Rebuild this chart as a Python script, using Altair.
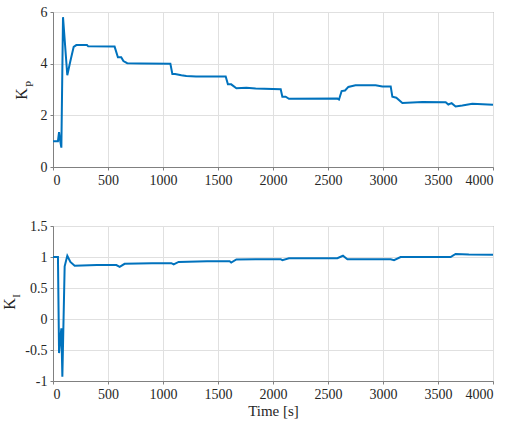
import altair as alt
import pandas as pd

t_kp = [0, 45, 55, 62, 76, 91, 130, 158, 188, 212, 309, 320, 560, 590, 620, 640, 675, 800,
        1067, 1085, 1110, 1167, 1212, 1300, 1570, 1590, 1620, 1667, 1758, 1842, 2070, 2085,
        2115, 2145, 2585, 2600, 2624, 2655, 2685, 2750, 2933, 2994, 3070, 3085, 3121, 3176,
        3358, 3570, 3594, 3624, 3660, 3721, 3812, 4000]
kp = [1.0, 1.0, 1.35, 1.1, 0.75, 5.8, 3.55, 4.1, 4.65, 4.72, 4.72, 4.67, 4.66, 4.25, 4.25,
      4.1, 4.02, 4.01, 4.0, 3.6, 3.6, 3.55, 3.52, 3.5, 3.5, 3.2, 3.2, 3.05, 3.07, 3.04, 3.01,
      2.72, 2.72, 2.64, 2.65, 2.61, 2.94, 2.96, 3.1, 3.16, 3.16, 3.12, 3.12, 2.72, 2.68, 2.48,
      2.52, 2.51, 2.42, 2.47, 2.34, 2.38, 2.45, 2.41]

t_ki = [0, 45, 55, 67, 76, 85, 106, 130, 158, 197, 400, 576, 606, 651, 900, 1076, 1097, 1142,
        1400, 1606, 1620, 1667, 1842, 2070, 2085, 2145, 2585, 2636, 2676, 3070, 3100, 3160,
        3615, 3660, 3780, 4000]
ki = [1.0, 1.0, -0.55, -0.3, -0.15, -0.93, 0.85, 1.02, 0.92, 0.86, 0.87, 0.87, 0.84, 0.89,
      0.9, 0.9, 0.88, 0.92, 0.93, 0.93, 0.91, 0.96, 0.965, 0.965, 0.95, 0.98, 0.98, 1.02,
      0.965, 0.965, 0.95, 1.0, 1.0, 1.05, 1.04, 1.035]

x_ticks = [0, 500, 1000, 1500, 2000, 2500, 3000, 3500, 4000]
kp_ticks = [0, 2, 4, 6]
ki_ticks = [-1, -0.5, 0, 0.5, 1, 1.5]

FONT = "Liberation Serif, Times New Roman, serif"
BLUE = "#0072BD"
TXT = "#262626"
GRID = "#e0e0e0"
W, H = 440, 155

df_kp = pd.DataFrame({"t": t_kp, "v": kp})
df_ki = pd.DataFrame({"t": t_ki, "v": ki})


def axis_x(title):
    kw = dict(values=x_ticks, grid=True, gridColor=GRID, domainColor="#808080",
              tickColor="#808080", tickSize=3, labelFont=FONT, labelFontSize=14,
              labelColor=TXT, labelPadding=3, labelExpr="toString(datum.value)")
    if title:
        return alt.Axis(title=title, titleFont=FONT, titleFontSize=15,
                        titleFontWeight="normal", titleColor=TXT, titlePadding=2, **kw)
    return alt.Axis(title=None, **kw)


def axis_y(vals):
    return alt.Axis(title=None, values=vals, grid=True, gridColor=GRID,
                    domainColor="#808080", tickColor="#808080", tickSize=3,
                    labelFont=FONT, labelFontSize=14, labelColor=TXT, labelPadding=3,
                    labelExpr="toString(datum.value)")


def label(main, sub, xk, yk, xs, ys):
    d = pd.DataFrame({"a": [0]})
    k = alt.Chart(d).mark_text(font=FONT, fontSize=16, angle=270, color=TXT).encode(
        x=alt.value(xk), y=alt.value(yk), text=alt.value(main))
    s = alt.Chart(d).mark_text(font=FONT, fontSize=11, angle=270, color=TXT).encode(
        x=alt.value(xs), y=alt.value(ys), text=alt.value(sub))
    return k + s


top_line = alt.Chart(df_kp).mark_line(color=BLUE, strokeWidth=2).encode(
    x=alt.X("t:Q", scale=alt.Scale(domain=[0, 4000], nice=False), axis=axis_x(None)),
    y=alt.Y("v:Q", scale=alt.Scale(domain=[0, 6], nice=False), axis=axis_y(kp_ticks)),
)
top = (top_line + label("K", "P", -31, 82, -23, 72)).properties(width=W, height=H)

bot_line = alt.Chart(df_ki).mark_line(color=BLUE, strokeWidth=2).encode(
    x=alt.X("t:Q", scale=alt.Scale(domain=[0, 4000], nice=False), axis=axis_x("Time [s]")),
    y=alt.Y("v:Q", scale=alt.Scale(domain=[-1, 1.5], nice=False), axis=axis_y(ki_ticks)),
)
bot = (bot_line + label("K", "I", -43, 78, -36, 70)).properties(width=W, height=H)

chart = alt.vconcat(top, bot, spacing=30).configure_view(
    stroke="#808080", strokeWidth=1
).configure_axis(
    labelFont=FONT, titleFont=FONT
).configure_text(
    font=FONT
).properties(padding={"left": 1, "top": 4, "right": 5, "bottom": 5}, background="white")

chart.save("out.html", embed_options={"renderer": "svg", "actions": False})
